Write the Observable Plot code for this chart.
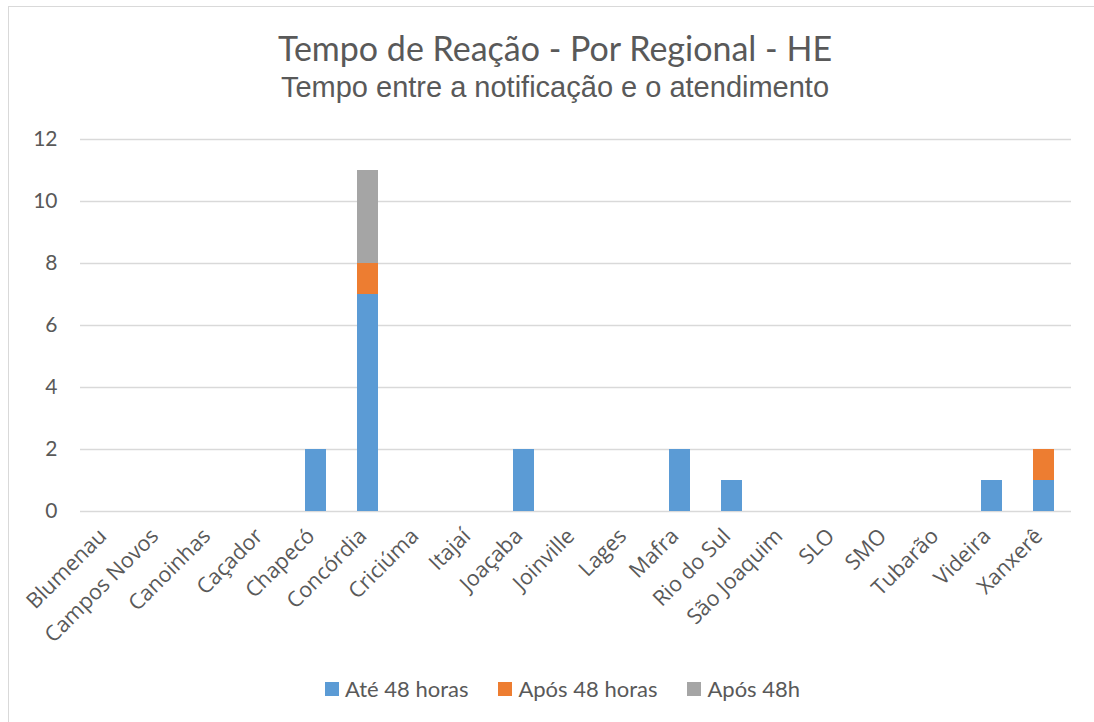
<!DOCTYPE html>
<html>
<head>
<meta charset="utf-8">
<script src="https://cdn.jsdelivr.net/npm/d3@7"></script>
<script src="https://cdn.jsdelivr.net/npm/@observablehq/plot@0.6"></script>
<style>
  html, body { margin: 0; padding: 0; background: #fff; }
  #wrap { position: relative; width: 1094px; height: 722px; overflow: hidden; font-family: Lato, sans-serif; color: #595959; }
  #border { position: absolute; left: 8px; top: 6px; width: 1200px; height: 800px; border: 1.5px solid #d9d9d9; box-sizing: border-box; }
  #title { position: absolute; left: 0; width: 1110px; top: 28px; text-align: center; font-family: Lato, sans-serif; font-size: 34px; line-height: 1.2; white-space: nowrap; }
  #subtitle { position: absolute; left: 0; width: 1110px; top: 73px; text-align: center; font-family: "Liberation Sans", Arial, sans-serif; font-size: 29px; line-height: 1; white-space: nowrap; }
  #chart { position: absolute; left: 0; top: 0; }
  #legend { position: absolute; left: 0; width: 1125px; top: 676px; display: flex; justify-content: center; gap: 30px; font-size: 22px; line-height: 26px; }
  .item { display: flex; align-items: center; gap: 6px; white-space: nowrap; }
  .sw { width: 14px; height: 14px; display: inline-block; }
</style>
</head>
<body>
<div id="wrap">
  <div id="border"></div>
  <div id="chart"></div>
  <div id="title"></div>
  <div id="subtitle"></div>
  <div id="legend"></div>
</div>
<script>
const titleText = "Tempo de Reação - Por Regional - HE";
const subtitleText = "Tempo entre a notificação e o atendimento";

const regionais = ["Blumenau", "Campos Novos", "Canoinhas", "Caçador", "Chapecó", "Concórdia", "Criciúma", "Itajaí", "Joaçaba", "Joinville", "Lages", "Mafra", "Rio do Sul", "São Joaquim", "SLO", "SMO", "Tubarão", "Videira", "Xanxerê"];
const series = ["Até 48 horas", "Após 48 horas", "Após 48h"];
const colors = ["#5B9BD5", "#ED7D31", "#A5A5A5"];
const ate48horas  = [0, 0, 0, 0, 2, 7, 0, 0, 2, 0, 0, 2, 1, 0, 0, 0, 0, 1, 1];
const apos48horas = [0, 0, 0, 0, 0, 1, 0, 0, 0, 0, 0, 0, 0, 0, 0, 0, 0, 0, 1];
const apos48h     = [0, 0, 0, 0, 0, 3, 0, 0, 0, 0, 0, 0, 0, 0, 0, 0, 0, 0, 0];
const yTicks = [0, 2, 4, 6, 8, 10, 12];

document.getElementById("title").textContent = titleText;
document.getElementById("subtitle").textContent = subtitleText;

const valuesBySeries = [ate48horas, apos48horas, apos48h];
const table = [];
series.forEach((s, si) => {
  regionais.forEach((r, i) => {
    table.push({regional: r, serie: s, valor: valuesBySeries[si][i]});
  });
});

const chart = Plot.plot({
  width: 1094,
  height: 722,
  marginLeft: 80,
  marginRight: 23,
  marginTop: 139,
  marginBottom: 211,
  style: {fontFamily: "Lato, sans-serif", color: "#595959", background: "transparent"},
  x: {domain: regionais, paddingInner: 0.6, paddingOuter: 0.3, axis: null, label: null},
  y: {domain: [0, 12], axis: null, label: null},
  color: {domain: series, range: colors},
  marks: [
    Plot.ruleY(yTicks, {stroke: "#d9d9d9", strokeWidth: 1.5}),
    Plot.barY(table, Plot.stackY({x: "regional", y: "valor", fill: "serie", order: series})),
    Plot.axisY({ticks: yTicks, tickSize: 0, tickPadding: 23, fontSize: 21, fill: "#595959", label: null}),
    Plot.text(regionais, {x: d => d, frameAnchor: "bottom", rotate: -45, textAnchor: "end", lineAnchor: "middle", dx: -5, dy: 21, fontSize: 21.5, fontFamily: "Open Sans", fill: "#595959"})
  ]
});
document.getElementById("chart").appendChild(chart);

const legend = document.getElementById("legend");
series.forEach((s, i) => {
  const it = document.createElement("div");
  it.className = "item";
  const sw = document.createElement("span");
  sw.className = "sw";
  sw.style.background = colors[i];
  const tx = document.createElement("span");
  tx.textContent = s;
  it.appendChild(sw);
  it.appendChild(tx);
  legend.appendChild(it);
});
</script>
</body>
</html>
